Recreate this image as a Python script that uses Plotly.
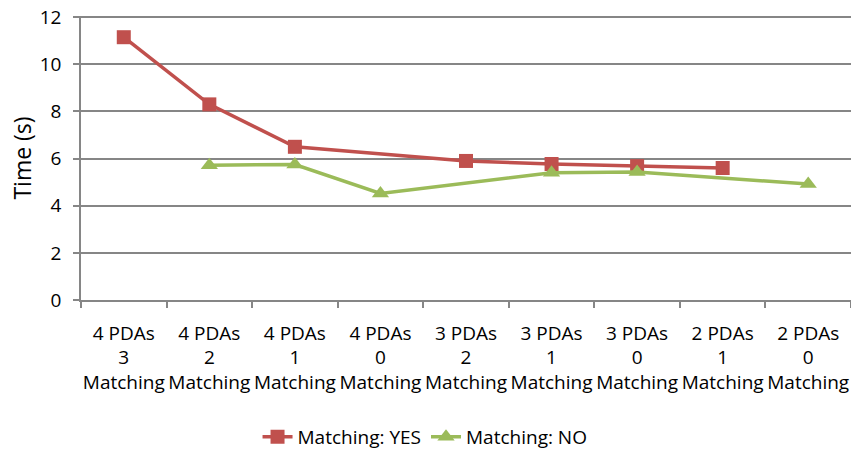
import plotly.graph_objects as go

categories = ["4 PDAs<br>3<br>Matching", "4 PDAs<br>2<br>Matching", "4 PDAs<br>1<br>Matching",
              "4 PDAs<br>0<br>Matching", "3 PDAs<br>2<br>Matching", "3 PDAs<br>1<br>Matching",
              "3 PDAs<br>0<br>Matching", "2 PDAs<br>1<br>Matching", "2 PDAs<br>0<br>Matching"]
match_yes = [11.15, 8.3, 6.5, None, 5.9, 5.77, 5.68, 5.6, None]
match_no = [None, 5.72, 5.75, 4.52, None, 5.4, 5.43, None, 4.92]

fig = go.Figure()
fig.add_trace(go.Scatter(x=categories, y=match_yes, name="Matching: YES", mode="lines+markers",
                         connectgaps=True, line=dict(color="#C0504D", width=3.5),
                         marker=dict(symbol="square", size=14, color="#C0504D")))
fig.add_trace(go.Scatter(x=categories, y=match_no, name="Matching: NO", mode="lines+markers",
                         connectgaps=True, line=dict(color="#9BBB59", width=3.5),
                         marker=dict(symbol="triangle-up", size=15, color="#9BBB59")))

font = "Open Sans, Liberation Sans, sans-serif"
fig.update_layout(
    width=851, height=452,
    margin=dict(l=81, r=0, t=16, b=152, autoexpand=False),
    paper_bgcolor="white", plot_bgcolor="white",
    font=dict(family=font, size=19, color="#000000"),
    legend=dict(orientation="h", x=0.4468, xanchor="center",
                y=-0.482, yanchor="middle", font=dict(size=19)),
    showlegend=True,
)
fig.update_xaxes(type="category", tickson="boundaries", ticks="outside", ticklen=6,
                 tickcolor="#868686", tickwidth=1.5, showline=True, linecolor="#868686",
                 linewidth=1.5, showgrid=False, tickfont=dict(size=19), tickangle=0,
                 range=[-0.5, 8.5], automargin=False, ticklabelstandoff=15)
fig.update_yaxes(range=[0, 12.05], tickvals=[0, 2, 4, 6, 8, 10, 12], ticks="outside", ticklen=6,
                 tickcolor="#868686", tickwidth=1.5, showline=True, linecolor="#868686",
                 linewidth=1.5, showgrid=True, gridcolor="#868686", gridwidth=1.5, zeroline=False,
                 tickfont=dict(size=19), automargin=False, ticklabelstandoff=8,
                 title=dict(text="Time (s)", font=dict(size=23), standoff=2))

fig.write_html("out.html", config={"displayModeBar": False},
               post_script="document.body.style.margin='0';")
